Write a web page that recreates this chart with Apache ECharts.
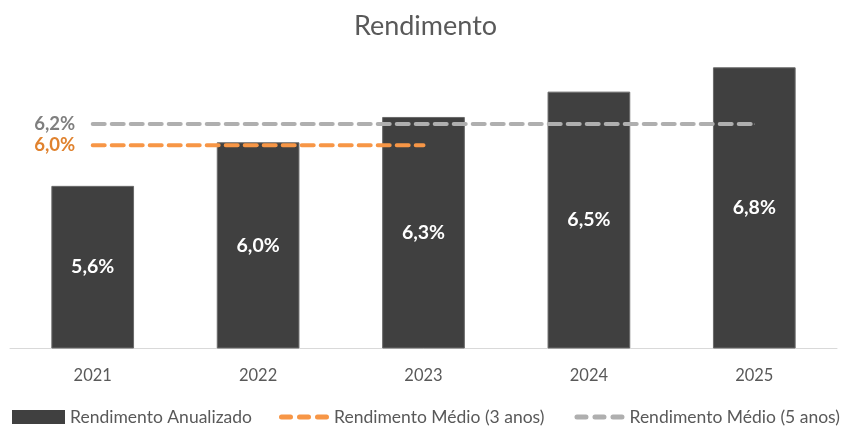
<!DOCTYPE html>
<html lang="pt">
<head>
    <meta charset="UTF-8">
    <title>Rendimento</title>
    <script src="https://cdn.jsdelivr.net/npm/echarts@6/dist/echarts.min.js"></script>
    <style>
        html, body { margin: 0; height: 100%; background: #fff; }
        #app { width: 851px; height: 427px; }
    </style>
</head>
<body>
<div id="app"></div>
<script>
    var anos = ['2021', '2022', '2023', '2024', '2025'];
    var rendAnual = [5.6, 6.03, 6.28, 6.53, 6.77];
    var media3 = [6.0, 6.0, 6.0, null, null];
    var media5 = [6.21, 6.21, 6.21, 6.21, 6.21];

    var fonte = 'Lato, "Open Sans", sans-serif';
    var tracos = 'path://M2.5,0h9a2.5,2.5 0 0 1 0,5h-9a2.5,2.5 0 0 1 0,-5z M20.5,0h9a2.5,2.5 0 0 1 0,5h-9a2.5,2.5 0 0 1 0,-5z M38.5,0h9a2.5,2.5 0 0 1 0,5h-9a2.5,2.5 0 0 1 0,-5z';
    function pct(v) { return v.toFixed(1).replace('.', ',') + '%'; }

    // linha media tracejada, com o rotulo so a esquerda do primeiro ponto
    function linhaMedia(nome, dados, cor, corRotulo) {
        return {
            name: nome, type: 'line', data: dados,
            symbol: 'circle', symbolSize: 1, showSymbol: true,
            itemStyle: { color: cor },
            lineStyle: { color: cor, width: 4, type: [12, 7], cap: 'round' },
            label: {
                show: true, position: 'left', distance: 17,
                color: corRotulo, fontWeight: 700, fontSize: 18.5, fontFamily: fonte,
                textBorderWidth: 0,
                formatter: function (p) { return p.dataIndex === 0 ? pct(p.value) : ''; }
            },
            z: 3
        };
    }

    var myChart = echarts.init(document.getElementById('app'));
    myChart.setOption({
        animation: false,
        title: {
            text: 'Rendimento', left: 'center', top: 8,
            textStyle: { fontSize: 27, fontWeight: 'normal', color: '#595959', fontFamily: fonte }
        },
        legend: [
            {
                data: [{ name: 'Rendimento Anualizado', icon: 'rect' }], left: 7, top: 403,
                itemWidth: 53, itemHeight: 14,
                itemStyle: { borderWidth: 0 },
                textStyle: { color: '#595959', fontSize: 17.5, fontFamily: fonte }
            },
            {
                data: [
                    { name: 'Rendimento Médio (3 anos)', icon: tracos, itemStyle: { color: '#f79646' } },
                    { name: 'Rendimento Médio (5 anos)', icon: tracos, itemStyle: { color: '#afafaf' } }
                ],
                left: 274, top: 403,
                itemWidth: 50, itemHeight: 5, itemGap: 30,
                lineStyle: { width: 0 },
                textStyle: { color: '#595959', fontSize: 17.5, fontFamily: fonte }
            }
        ],
        grid: { left: 10, right: 14, top: 44, bottom: 79 },
        xAxis: {
            type: 'category', data: anos,
            axisLine: { lineStyle: { color: '#d9d9d9' } },
            axisTick: { show: false },
            axisLabel: { color: '#595959', fontSize: 16.5, margin: 19, fontFamily: fonte }
        },
        yAxis: { type: 'value', min: 4, max: 7, show: false, splitLine: { show: false } },
        series: [
            {
                name: 'Rendimento Anualizado', type: 'bar', data: rendAnual, barWidth: '50%',
                itemStyle: { color: '#404040', borderColor: '#6a6a6a', borderWidth: 1 },
                label: {
                    show: true, position: 'inside', color: '#fff', fontWeight: 'bold', fontSize: 19.5,
                    fontFamily: fonte, formatter: function (p) { return pct(p.value); }
                },
                z: 1
            },
            linhaMedia('Rendimento Médio (3 anos)', media3, '#f79646', '#e0822e'),
            linhaMedia('Rendimento Médio (5 anos)', media5, '#afafaf', '#7f7f7f')
        ]
    });
</script>
</body>
</html>
